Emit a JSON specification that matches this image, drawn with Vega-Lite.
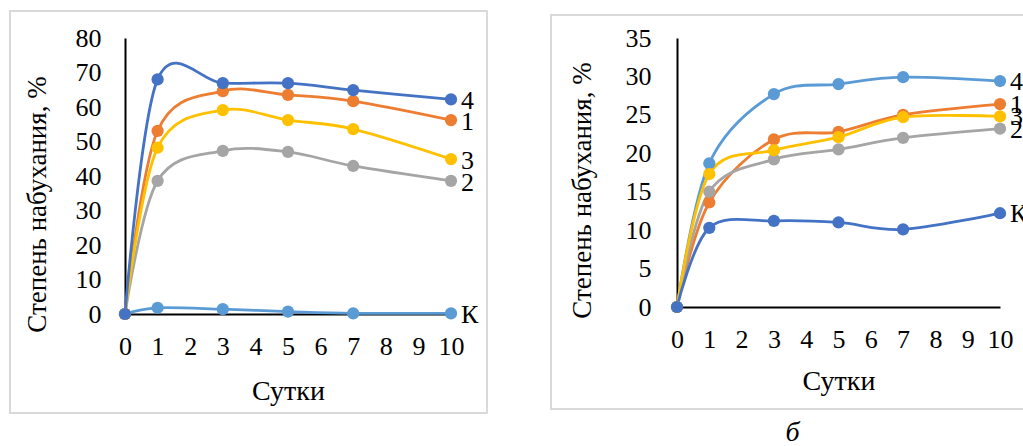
{
  "$schema": "https://vega.github.io/schema/vega-lite/v6.json",
  "padding": {"left": 9, "top": 10, "right": 0, "bottom": 0},
  "spacing": 62,
  "config": {
    "view": {"stroke": null},
    "font": "Liberation Serif",
    "text": {"font": "Liberation Serif"},
    "title": {"font": "Liberation Serif"},
    "axis": {
      "labelFont": "Liberation Serif", "labelFontSize": 26, "labelColor": "#000",
      "titleFont": "Liberation Serif", "titleFontSize": 27, "titleColor": "#000", "titleFontWeight": "normal",
      "ticks": false, "tickSize": 0, "grid": false, "labelOverlap": false,
      "domainColor": "#000", "domainWidth": 2
    }
  },
  "datasets": {
    "a": [
      {"day": 0, "series": "К", "value": 0}, {"day": 1, "series": "К", "value": 1.8}, {"day": 3, "series": "К", "value": 1.4}, {"day": 5, "series": "К", "value": 0.7}, {"day": 7, "series": "К", "value": 0.2}, {"day": 10, "series": "К", "value": 0.2},
      {"day": 0, "series": "1", "value": 0}, {"day": 1, "series": "1", "value": 53.1}, {"day": 3, "series": "1", "value": 64.6}, {"day": 5, "series": "1", "value": 63.5}, {"day": 7, "series": "1", "value": 61.7}, {"day": 10, "series": "1", "value": 56.2},
      {"day": 0, "series": "2", "value": 0}, {"day": 1, "series": "2", "value": 38.6}, {"day": 3, "series": "2", "value": 47.3}, {"day": 5, "series": "2", "value": 47.0}, {"day": 7, "series": "2", "value": 42.9}, {"day": 10, "series": "2", "value": 38.6},
      {"day": 0, "series": "3", "value": 0}, {"day": 1, "series": "3", "value": 48.2}, {"day": 3, "series": "3", "value": 59.1}, {"day": 5, "series": "3", "value": 56.2}, {"day": 7, "series": "3", "value": 53.6}, {"day": 10, "series": "3", "value": 44.9},
      {"day": 0, "series": "4", "value": 0}, {"day": 1, "series": "4", "value": 68.0}, {"day": 3, "series": "4", "value": 66.9}, {"day": 5, "series": "4", "value": 66.9}, {"day": 7, "series": "4", "value": 64.9}, {"day": 10, "series": "4", "value": 62.2}
    ],
    "b": [
      {"day": 0, "series": "4", "value": 0}, {"day": 1, "series": "4", "value": 18.7}, {"day": 3, "series": "4", "value": 27.7}, {"day": 5, "series": "4", "value": 29.0}, {"day": 7, "series": "4", "value": 29.9}, {"day": 10, "series": "4", "value": 29.4},
      {"day": 0, "series": "1", "value": 0}, {"day": 1, "series": "1", "value": 13.6}, {"day": 3, "series": "1", "value": 21.8}, {"day": 5, "series": "1", "value": 22.8}, {"day": 7, "series": "1", "value": 25.0}, {"day": 10, "series": "1", "value": 26.4},
      {"day": 0, "series": "2", "value": 0}, {"day": 1, "series": "2", "value": 15.0}, {"day": 3, "series": "2", "value": 19.2}, {"day": 5, "series": "2", "value": 20.5}, {"day": 7, "series": "2", "value": 22.0}, {"day": 10, "series": "2", "value": 23.2},
      {"day": 0, "series": "3", "value": 0}, {"day": 1, "series": "3", "value": 17.3}, {"day": 3, "series": "3", "value": 20.4}, {"day": 5, "series": "3", "value": 22.1}, {"day": 7, "series": "3", "value": 24.7}, {"day": 10, "series": "3", "value": 24.8},
      {"day": 0, "series": "К", "value": 0}, {"day": 1, "series": "К", "value": 10.3}, {"day": 3, "series": "К", "value": 11.2}, {"day": 5, "series": "К", "value": 11.0}, {"day": 7, "series": "К", "value": 10.1}, {"day": 10, "series": "К", "value": 12.2}
    ]
  },
  "resolve": {"scale": {"color": "independent", "x": "independent", "y": "independent"}},
  "hconcat": [
    {
      "width": 326, "height": 276,
      "data": {"name": "a"},
      "encoding": {
        "x": {"field": "day", "type": "quantitative", "scale": {"domain": [0, 10], "nice": false},
              "axis": {"values": [0,1,2,3,4,5,6,7,8,9,10], "title": "Сутки", "labelPadding": 19, "titlePadding": 18, "labelFlush": false, "labelOverlap": false,
                       "labelFont": "Liberation Serif", "labelFontSize": 26, "titleFont": "Liberation Serif", "titleFontSize": 28}},
        "y": {"field": "value", "type": "quantitative", "scale": {"domain": [0, 80], "nice": false},
              "axis": {"values": [0,10,20,30,40,50,60,70,80], "title": "Степень набухания, %", "labelPadding": 24, "titlePadding": 24, "titleY": 166, "labelOverlap": false,
                       "labelFont": "Liberation Serif", "labelFontSize": 26, "titleFont": "Liberation Serif", "titleFontSize": 27}},
        "color": {"field": "series", "type": "nominal", "legend": null,
                  "scale": {"domain": ["1", "2", "3", "4", "К"], "range": ["#ED7D31", "#A5A5A5", "#FFC000", "#4472C4", "#5B9BD5"]}}
      },
      "layer": [
        {"mark": {"type": "line", "interpolate": "cardinal", "strokeWidth": 2.8}},
        {"mark": {"type": "circle", "size": 150, "opacity": 1}},
        {
          "transform": [{"filter": "datum.day === 10"}],
          "mark": {"type": "text", "align": "left", "baseline": "middle", "dx": 10, "fontSize": 26, "font": "Liberation Serif", "color": "#000"},
          "encoding": {
            "yOffset": {"condition": {"test": "datum.series === '2'", "value": 5}, "value": 2},
            "text": {"field": "series"},
            "color": {"value": "#000"}
          }
        },
        {
          "mark": {"type": "rect", "fillOpacity": 0, "stroke": "#d9d9d9", "strokeWidth": 1.5},
          "encoding": {
            "x": {"datum": -3.53, "type": "quantitative"},
            "x2": {"datum": 11.1},
            "y": {"datum": 87.8, "type": "quantitative"},
            "y2": {"datum": -28.7},
            "color": {"value": "#d9d9d9"}
          }
        }
      ]
    },
    {
      "width": 323, "height": 269,
      "data": {"name": "b"},
      "title": {"text": "б", "orient": "bottom", "font": "Liberation Serif", "fontStyle": "italic", "fontWeight": "normal", "fontSize": 28, "color": "#000", "offset": 9, "dx": -46},
      "encoding": {
        "x": {"field": "day", "type": "quantitative", "scale": {"domain": [0, 10], "nice": false},
              "axis": {"values": [0,1,2,3,4,5,6,7,8,9,10], "title": "Сутки", "labelPadding": 19, "titlePadding": 15, "labelFlush": false, "labelOverlap": false,
                       "labelFont": "Liberation Serif", "labelFontSize": 26, "titleFont": "Liberation Serif", "titleFontSize": 28}},
        "y": {"field": "value", "type": "quantitative", "scale": {"domain": [0, 35], "nice": false},
              "axis": {"values": [0,5,10,15,20,25,30,35], "title": "Степень набухания, %", "labelPadding": 26, "titlePadding": 29, "titleY": 152, "labelOverlap": false,
                       "labelFont": "Liberation Serif", "labelFontSize": 26, "titleFont": "Liberation Serif", "titleFontSize": 27}},
        "color": {"field": "series", "type": "nominal", "legend": null,
                  "scale": {"domain": ["1", "2", "3", "4", "К"], "range": ["#ED7D31", "#A5A5A5", "#FFC000", "#5B9BD5", "#4472C4"]}}
      },
      "layer": [
        {"mark": {"type": "line", "interpolate": "cardinal", "strokeWidth": 2.8}},
        {"mark": {"type": "circle", "size": 150, "opacity": 1}},
        {
          "transform": [{"filter": "datum.day === 10"}],
          "mark": {"type": "text", "align": "left", "baseline": "middle", "dx": 10, "fontSize": 26, "font": "Liberation Serif", "color": "#000"},
          "encoding": {
            "yOffset": {"condition": {"test": "datum.series === '2'", "value": 12}, "value": 1},
            "text": {"field": "series"},
            "color": {"value": "#000"}
          }
        },
        {
          "mark": {"type": "rect", "fillOpacity": 0, "stroke": "#d9d9d9", "strokeWidth": 1.5},
          "encoding": {
            "x": {"datum": -3.9, "type": "quantitative"},
            "x2": {"datum": 10.95},
            "y": {"datum": 38.0, "type": "quantitative"},
            "y2": {"datum": -13.3},
            "color": {"value": "#d9d9d9"}
          }
        }
      ]
    }
  ]
}
